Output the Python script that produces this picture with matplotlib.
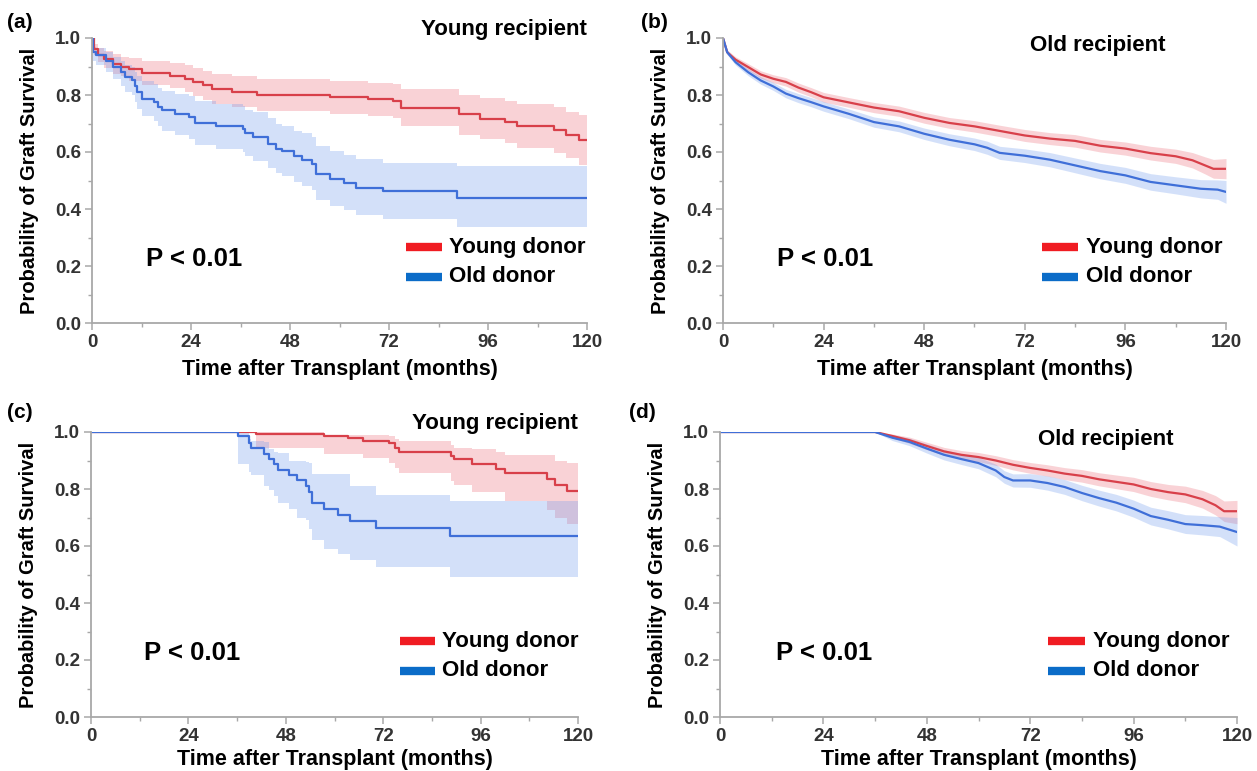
"""
Graft survival by donor age — 4 panel Kaplan-Meier figure
"""

import matplotlib
matplotlib.use("Agg")
import matplotlib.pyplot as plt
from matplotlib.ticker import MultipleLocator

plt.rcParams["font.family"] = ["Liberation Sans", "DejaVu Sans"]

# ── colours ──────────────────────────────────────────────
RED      = "#d8404a"
BLUE     = "#3f6fd8"
RED_F    = "#ec6d78"
BLUE_F   = "#6f9bee"
RED_LEG  = "#f01c22"
BLUE_LEG = "#0b6cc8"
SPINE    = "#a8a8a8"
TICKTXT  = "#333333"

# ── data : (a) young recipient, all follow-up ────────────
a_young_t  = [0, 0.5, 1.5, 3, 5, 7, 9, 12, 19, 22.5, 24.5, 27, 29, 34, 40, 57.6, 67, 73, 75,
              89, 94, 100, 103, 112, 115, 118, 120]
a_young_s  = [1.0, 0.96, 0.94, 0.925, 0.91, 0.90, 0.89, 0.877, 0.868, 0.857, 0.845, 0.834, 0.822,
              0.81, 0.80, 0.793, 0.785, 0.78, 0.755, 0.732, 0.717, 0.705, 0.691, 0.678, 0.661,
              0.643, 0.643]
a_young_hi = [1.0, 0.98, 0.965, 0.955, 0.945, 0.935, 0.93, 0.92, 0.912, 0.905, 0.895, 0.885,
              0.875, 0.865, 0.855, 0.85, 0.843, 0.84, 0.82, 0.80, 0.788, 0.778, 0.767, 0.757,
              0.742, 0.73, 0.73]
a_young_lo = [1.0, 0.94, 0.915, 0.895, 0.875, 0.865, 0.85, 0.835, 0.823, 0.81, 0.795, 0.782,
              0.77, 0.757, 0.745, 0.735, 0.725, 0.718, 0.69, 0.66, 0.645, 0.63, 0.614, 0.598,
              0.578, 0.555, 0.55]

a_old_t  = [0, 0.3, 1, 3.4, 5, 7, 8, 9.6, 10.5, 11, 12, 15, 16, 17, 20, 23.5, 25, 30, 36.5, 37,
            39, 42.7, 44.6, 46, 49, 51, 53.3, 54.2, 57.6, 61, 64, 70.5, 88.5, 120]
a_old_s  = [1.0, 0.95, 0.94, 0.92, 0.90, 0.88, 0.862, 0.853, 0.83, 0.81, 0.787, 0.775, 0.758,
            0.746, 0.734, 0.723, 0.703, 0.69, 0.68, 0.665, 0.653, 0.629, 0.612, 0.602, 0.585,
            0.573, 0.559, 0.524, 0.506, 0.491, 0.475, 0.462, 0.44, 0.44]
a_old_hi = [1.0, 0.97, 0.965, 0.95, 0.935, 0.92, 0.905, 0.90, 0.88, 0.865, 0.85, 0.84, 0.825,
            0.815, 0.805, 0.795, 0.78, 0.77, 0.76, 0.748, 0.74, 0.718, 0.70, 0.692, 0.675, 0.665,
            0.652, 0.62, 0.602, 0.588, 0.575, 0.562, 0.55, 0.55]
a_old_lo = [1.0, 0.92, 0.905, 0.88, 0.855, 0.83, 0.81, 0.80, 0.775, 0.75, 0.725, 0.71, 0.69,
            0.675, 0.66, 0.645, 0.625, 0.61, 0.60, 0.585, 0.57, 0.545, 0.525, 0.515, 0.495, 0.48,
            0.465, 0.43, 0.41, 0.395, 0.378, 0.365, 0.338, 0.338]

# ── data : (b) old recipient, all follow-up ──────────────
b_young_t  = [0, 1, 3, 6, 9, 12, 15, 18, 21, 24, 30, 36, 42, 48, 54, 60, 66, 72, 78, 84, 90, 96,
              102, 108, 112, 115, 117, 120]
b_young_s  = [1.0, 0.95, 0.924, 0.898, 0.872, 0.857, 0.846, 0.826, 0.81, 0.792, 0.774, 0.756,
              0.743, 0.72, 0.702, 0.69, 0.674, 0.658, 0.647, 0.639, 0.622, 0.612, 0.596, 0.585,
              0.571, 0.553, 0.541, 0.541]
b_young_hi = [1.0, 0.958, 0.934, 0.91, 0.885, 0.871, 0.861, 0.842, 0.826, 0.809, 0.791, 0.774,
              0.761, 0.739, 0.721, 0.71, 0.694, 0.679, 0.668, 0.661, 0.644, 0.635, 0.62, 0.61,
              0.598, 0.583, 0.574, 0.577]
b_young_lo = [1.0, 0.942, 0.914, 0.886, 0.859, 0.843, 0.831, 0.81, 0.794, 0.775, 0.757, 0.738,
              0.725, 0.701, 0.683, 0.67, 0.654, 0.637, 0.626, 0.617, 0.60, 0.589, 0.572, 0.56,
              0.544, 0.523, 0.508, 0.506]

b_old_t  = [0, 1, 3, 6, 9, 12, 15, 18, 21, 24, 30, 36, 42, 48, 54, 60, 63, 66, 72, 78, 84, 90,
            96, 102, 108, 114, 118, 120]
b_old_s  = [1.0, 0.95, 0.915, 0.88, 0.851, 0.83, 0.805, 0.789, 0.775, 0.76, 0.734, 0.705, 0.69,
            0.664, 0.643, 0.627, 0.615, 0.597, 0.587, 0.573, 0.553, 0.533, 0.518, 0.495, 0.483,
            0.471, 0.468, 0.46]
b_old_hi = [1.0, 0.958, 0.925, 0.892, 0.864, 0.844, 0.82, 0.805, 0.791, 0.777, 0.751, 0.723,
            0.709, 0.684, 0.664, 0.649, 0.638, 0.62, 0.611, 0.598, 0.579, 0.56, 0.546, 0.524,
            0.513, 0.503, 0.502, 0.50]
b_old_lo = [1.0, 0.942, 0.905, 0.868, 0.838, 0.816, 0.79, 0.773, 0.759, 0.743, 0.717, 0.687,
            0.671, 0.644, 0.622, 0.605, 0.592, 0.574, 0.563, 0.548, 0.527, 0.506, 0.49, 0.466,
            0.453, 0.439, 0.434, 0.42]

# ── data : (c) young recipient, conditional on 36 months ─
c_young_t  = [0, 40.7, 57.4, 63.3, 67, 73.5, 75, 76, 88.6, 89.5, 94, 99.8, 102, 112.4, 114.4,
              117.3, 120]
c_young_s  = [1.0, 0.993, 0.985, 0.979, 0.967, 0.96, 0.945, 0.93, 0.915, 0.904, 0.886, 0.871,
              0.856, 0.834, 0.813, 0.794, 0.794]
c_young_hi = [1.0, 1.0, 0.99, 0.988, 0.988, 0.985, 0.975, 0.97, 0.955, 0.945, 0.94, 0.93,
              0.918, 0.918, 0.90, 0.89, 0.877]
c_young_lo = [1.0, 0.945, 0.924, 0.922, 0.91, 0.89, 0.875, 0.855, 0.828, 0.813, 0.79, 0.79,
              0.757, 0.727, 0.70, 0.678, 0.678]

c_old_t  = [0, 36.3, 39, 39.5, 42.6, 43.8, 45.2, 46.2, 48.7, 50.8, 53, 53.7, 54.5, 57.4, 60.8,
            63.7, 70.3, 88.4, 120]
c_old_s  = [1.0, 0.985, 0.963, 0.945, 0.924, 0.904, 0.886, 0.868, 0.85, 0.83, 0.81, 0.79, 0.752,
            0.729, 0.71, 0.689, 0.664, 0.635, 0.635]
c_old_hi = [1.0, 1.0, 0.975, 0.968, 0.965, 0.94, 0.93, 0.925, 0.90, 0.90, 0.895, 0.89, 0.852,
            0.852, 0.852, 0.81, 0.78, 0.757, 0.757]
c_old_lo = [1.0, 0.886, 0.86, 0.85, 0.81, 0.795, 0.775, 0.752, 0.73, 0.70, 0.69, 0.66, 0.62,
            0.59, 0.573, 0.55, 0.526, 0.491, 0.491]

# ── data : (d) old recipient, conditional on 36 months ───
d_young_t  = [0, 36, 40, 44, 48, 52, 56, 60, 64, 68, 72, 76, 80, 84, 88, 92, 96, 100, 104, 108,
              112, 115, 117, 120]
d_young_s  = [1.0, 1.0, 0.986, 0.971, 0.951, 0.932, 0.92, 0.912, 0.90, 0.885, 0.874, 0.865,
              0.854, 0.846, 0.834, 0.825, 0.816, 0.80, 0.789, 0.781, 0.764, 0.743, 0.722, 0.722]
d_young_hi = [1.0, 1.0, 0.993, 0.982, 0.964, 0.946, 0.935, 0.928, 0.917, 0.903, 0.893, 0.885,
              0.875, 0.868, 0.857, 0.849, 0.841, 0.826, 0.816, 0.81, 0.795, 0.777, 0.758, 0.76]
d_young_lo = [1.0, 1.0, 0.979, 0.96, 0.938, 0.918, 0.905, 0.896, 0.883, 0.867, 0.855, 0.845,
              0.833, 0.824, 0.811, 0.801, 0.791, 0.774, 0.762, 0.752, 0.733, 0.709, 0.686, 0.678]

d_old_t  = [0, 36, 40, 44, 48, 52, 56, 60, 64, 66, 68, 72, 76, 80, 84, 88, 92, 96, 100, 104,
            108, 112, 116, 120]
d_old_s  = [1.0, 1.0, 0.98, 0.965, 0.942, 0.92, 0.905, 0.891, 0.865, 0.842, 0.83, 0.83, 0.821,
            0.807, 0.786, 0.768, 0.752, 0.731, 0.705, 0.692, 0.677, 0.673, 0.668, 0.649]
d_old_hi = [1.0, 1.0, 0.99, 0.978, 0.958, 0.938, 0.924, 0.911, 0.887, 0.864, 0.853, 0.854,
            0.846, 0.833, 0.813, 0.796, 0.781, 0.761, 0.736, 0.724, 0.71, 0.707, 0.703, 0.70]
d_old_lo = [1.0, 1.0, 0.97, 0.952, 0.926, 0.902, 0.886, 0.871, 0.843, 0.82, 0.807, 0.806,
            0.796, 0.781, 0.759, 0.74, 0.723, 0.701, 0.674, 0.66, 0.644, 0.639, 0.633, 0.60]

x_ticks   = [0, 24, 48, 72, 96, 120]
y_ticks   = [0.0, 0.2, 0.4, 0.6, 0.8, 1.0]
legend    = ["Young donor", "Old donor"]
p_text    = "P < 0.01"


def style_axes(ax, xpad):
    for side in ("top", "right"):
        ax.spines[side].set_visible(False)
    for side in ("left", "bottom"):
        ax.spines[side].set_color(SPINE)
        ax.spines[side].set_linewidth(1.3)
        ax.spines[side].set_zorder(5)
    ax.set_xlim(0, 120)
    ax.set_ylim(0, 1.0)
    ax.set_xticks(x_ticks)
    ax.set_yticks(y_ticks)
    ax.set_yticklabels([f"{v:.1f}" for v in y_ticks])
    ax.xaxis.set_minor_locator(MultipleLocator(12))
    ax.yaxis.set_minor_locator(MultipleLocator(0.1))
    ax.tick_params(which="major", length=5, width=1.1, color=SPINE, labelsize=13.5,
                   labelcolor=TICKTXT, pad=3)
    ax.tick_params(which="minor", length=3, width=1.0, color=SPINE)
    for lab in ax.get_xticklabels() + ax.get_yticklabels():
        lab.set_fontweight("bold")
        lab.set_family(["Liberation Sans Narrow", "Liberation Sans"])
    ax.set_xlabel("Time after Transplant (months)", fontsize=15.5, fontweight="bold",
                  labelpad=xpad)
    ax.set_ylabel("Probability of Graft Survival", fontsize=14.5, fontweight="bold", labelpad=11)


def curve(ax, t, s, lo, hi, line_c, fill_c, step):
    if step:
        ax.fill_between(t, lo, hi, step="post", color=fill_c, alpha=0.3, lw=0)
        ax.plot(t, s, drawstyle="steps-post", color=line_c, lw=1.6)
    else:
        ax.fill_between(t, lo, hi, color=fill_c, alpha=0.3, lw=0)
        ax.plot(t, s, color=line_c, lw=1.6)


def legend_box(ax, y0, y1):
    ax.plot([76.2, 84.8], [y0, y0], color=RED_LEG, lw=6, solid_capstyle="butt", clip_on=False)
    ax.plot([76.2, 84.8], [y1, y1], color=BLUE_LEG, lw=6, solid_capstyle="butt", clip_on=False)
    ax.text(86.5, y0, legend[0], fontsize=16, fontweight="bold", va="center", ha="left")
    ax.text(86.5, y1, legend[1], fontsize=16, fontweight="bold", va="center", ha="left")


fig = plt.figure(figsize=(12.57, 7.71), dpi=100)
W, H = 1257, 771

def add_ax(x0, x1, ytop, ybot):
    return fig.add_axes([x0 / W, 1 - ybot / H, (x1 - x0) / W, (ybot - ytop) / H])

ax_a = add_ax(92, 587, 38, 323)
ax_b = add_ax(723, 1226, 38, 323)
ax_c = add_ax(91, 578, 432, 717)
ax_d = add_ax(720, 1237, 432, 717)

panels = [
    (ax_a, "Young recipient", True, 6,
     (a_young_t, a_young_s, a_young_lo, a_young_hi), (a_old_t, a_old_s, a_old_lo, a_old_hi)),
    (ax_b, "Old recipient", False, 6,
     (b_young_t, b_young_s, b_young_lo, b_young_hi), (b_old_t, b_old_s, b_old_lo, b_old_hi)),
    (ax_c, "Young recipient", True, 3,
     (c_young_t, c_young_s, c_young_lo, c_young_hi), (c_old_t, c_old_s, c_old_lo, c_old_hi)),
    (ax_d, "Old recipient", False, 3,
     (d_young_t, d_young_s, d_young_lo, d_young_hi), (d_old_t, d_old_s, d_old_lo, d_old_hi)),
]

for ax, title, step, xpad, young, old in panels:
    style_axes(ax, xpad)
    curve(ax, *young, RED, RED_F, step)
    curve(ax, *old, BLUE, BLUE_F, step)
    ax.text(13, 0.224, p_text, fontsize=18.5, fontweight="bold", va="center", ha="left")
    if title.startswith("Young"):
        ax.text(120, 1.03, title, fontsize=16, fontweight="bold", va="center", ha="right",
                clip_on=False)
    else:
        ax.text(89.5, 0.974, title, fontsize=16, fontweight="bold", va="center", ha="center")
    legend_box(ax, 0.265, 0.163)

# panel tags
fig.text(7 / W, 1 - 23 / H, "(a)", fontsize=15, fontweight="bold", va="center", ha="left")
fig.text(641 / W, 1 - 23 / H, "(b)", fontsize=15, fontweight="bold", va="center", ha="left")
fig.text(7 / W, 1 - 413 / H, "(c)", fontsize=15, fontweight="bold", va="center", ha="left")
fig.text(629 / W, 1 - 413 / H, "(d)", fontsize=15, fontweight="bold", va="center", ha="left")

fig.savefig("out.png", dpi=100, facecolor="white")
